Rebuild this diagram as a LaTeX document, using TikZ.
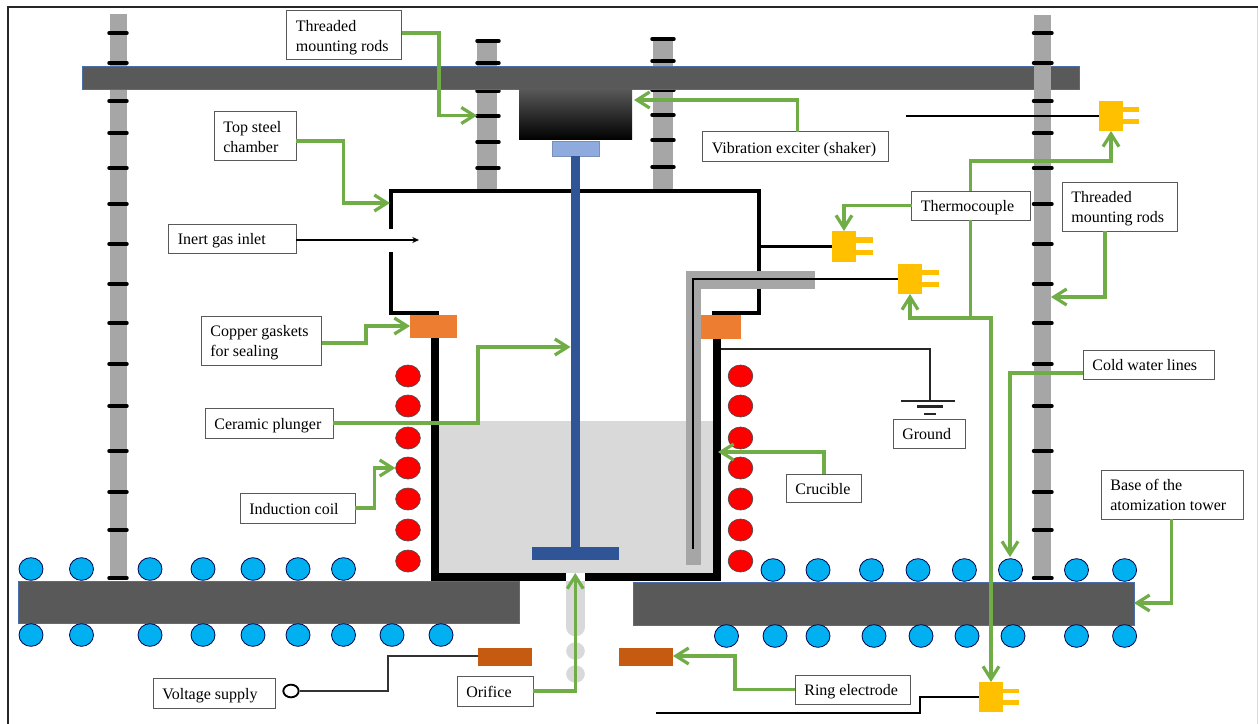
\documentclass[tikz,border=0pt]{standalone}
\usepackage{fontspec}
\setmainfont{Liberation Serif}
\usetikzlibrary{arrows.meta,shapes.geometric}
\definecolor{beamc}{HTML}{595959}
\definecolor{beamb}{HTML}{4A6FA8}
\definecolor{rodc}{HTML}{A6A6A6}
\definecolor{greenc}{HTML}{70AD47}
\definecolor{plungc}{HTML}{2F5597}
\definecolor{capc}{HTML}{8FAADC}
\definecolor{orangec}{HTML}{ED7D31}
\definecolor{elec}{HTML}{C55A11}
\definecolor{plugc}{HTML}{FFC000}
\definecolor{meltc}{HTML}{D9D9D9}
\definecolor{waterc}{HTML}{00B0F0}
\tikzset{
  beam/.style={fill=beamc,draw=beamb,line width=0.6pt},
  rod/.style={fill=rodc},
  tick/.style={line width=2.6pt,line cap=round,black},
  plugbody/.style={fill=plugc},
  gasket/.style={fill=orangec},
  electrode/.style={fill=elec},
  coil/.style={ellipse,fill=red,draw=black!70,line width=0.5pt,inner sep=0,minimum width=18.5pt,minimum height=16.5pt},
  water/.style={ellipse,fill=waterc,draw=black!70!blue,line width=0.6pt,inner sep=0,minimum width=18pt,minimum height=17pt},
  labelbox/.style={draw=black!65,fill=white,line width=0.75pt},
  gline/.style={draw=greenc,line width=2.4pt,-{Straight Barb[length=9.5pt,width=12pt,line width=2.4pt]}},
  wire/.style={black,line width=1.7pt},
  chamber/.style={black,line width=2.8pt},
  wall/.style={black,line width=6pt},
}
\newcommand\partbox[6]{\node[#2,inner sep=0,outer sep=0,minimum width={((#5)-(#3))*0.75pt},minimum height={((#6)-(#4))*0.75pt}] (#1) at ({((#3)+(#5))/2},{((#4)+(#6))/2}) {};}
\newcommand\labelat[6]{\node[labelbox,inner sep=0,outer sep=0,minimum height={((#5)-(#3))*0.75pt}] (#1) at ({((#2)+(#4))/2},{((#3)+(#5))/2})
  {\makebox[{\dimexpr#4pt*3/4-#2pt*3/4\relax}][l]{\hspace{7pt}\fontsize{12}{15}\selectfont\raisebox{-0.8pt}[\dimexpr\height+0.8pt\relax][\dimexpr\depth-0.8pt\relax]{\begin{tabular}[c]{@{}l@{}}#6\end{tabular}}}};}
\begin{document}
\begin{tikzpicture}[x=0.75pt,y=-0.75pt]
\useasboundingbox (0,0) rectangle (1258,724);
\fill[white] (0,0) rectangle (1258,724);
\coordinate (fa) at (8,724); \coordinate (fb) at (8,7); \coordinate (fc) at (1258,7);
\draw[black!85,line width=1.6pt] (fa) -- (fb) -- (fc);
\coordinate (ea) at (1257.2,8); \coordinate (eb) at (1257.2,724);
\draw[black!15,line width=0.9pt] (ea) -- (eb);
% rods behind beam
\partbox{rodA}{rod}{110}{14}{127}{580}
\foreach \y in {33,63,101,133,168,204,244,284,323,364,406,451,492,530,578}
  \draw[tick] (109,\y) -- (127,\y);
\partbox{rodB}{rod}{477}{41}{497}{191}
\foreach \y in {41,63,91,116,142,168}
  \draw[tick] (477,\y) -- (499,\y);
\partbox{rodC}{rod}{653}{39}{673}{191}
\foreach \y in {39,61,90,115,140,167}
  \draw[tick] (652,\y) -- (674,\y);
% top beam
\partbox{topbeam}{beam}{82}{66}{1079}{89}
% right rod in front of beam
\partbox{rodD}{rod}{1034}{15}{1051}{580}
\foreach \y in {33,63,101,133,168,204,244,284,323,364,406,451,492,530,578}
  \draw[tick] (1033.5,\y) -- (1052,\y);
% shaker
\node[inner sep=0,outer sep=0,minimum width=84.75pt,minimum height=38.25pt,top color=black!65,middle color=black,bottom color=black] (shaker) at (575.5,114.5) {};
\partbox{cap}{fill=capc,draw=capc!85!black,line width=0.6pt}{552}{141}{599.5}{156}
% melt
\partbox{melt}{fill=meltc}{439}{421}{713}{573}
% chamber
\draw[chamber] (391,229) -- (391,191) -- (759,191) -- (759,313) -- (712,313);
\draw[chamber] (391,252) -- (391,313) -- (439,313);
% crucible
\draw[wall] (435,325) -- (435,577) -- (566,577);
\draw[wall] (585,577) -- (717,577) -- (717,325);
% plunger
\partbox{plunger}{fill=plungc}{570.5}{156}{580}{548}
\partbox{foot}{fill=plungc}{532}{547}{619}{560}
% sheath
\partbox{sheathV}{fill=rodc}{686}{271}{701}{565}
\partbox{sheathH}{fill=rodc}{686}{271}{815}{289}
% plugs
\partbox{plugA}{plugbody}{832}{231}{856}{262}
\partbox{pinAa}{fill=plugc}{856}{237}{873}{243}
\partbox{pinAb}{fill=plugc}{856}{250}{873}{255}
\partbox{plugB}{plugbody}{898}{264}{922}{294}
\partbox{pinBa}{fill=plugc}{922}{270}{939}{275}
\partbox{pinBb}{fill=plugc}{922}{282}{939}{287}
\partbox{plugC}{plugbody}{1099}{101}{1123}{131}
\partbox{pinCa}{fill=plugc}{1123}{107}{1139}{112}
\partbox{pinCb}{fill=plugc}{1123}{119}{1139}{124}
\partbox{plugD}{plugbody}{979}{682}{1003}{712}
\partbox{pinDa}{fill=plugc}{1003}{689}{1019}{693}
\partbox{pinDb}{fill=plugc}{1003}{700}{1019}{705}
% thermocouple wires
\coordinate (wireA) at (760,246.5);
\draw[wire] (wireA) -- (plugA.west);
\coordinate (wireB) at (693,549);
\draw[wire,line width=2pt] (wireB) -- (693,279) -- (plugB.west);
\coordinate (wireC) at (906,116);
\draw[wire] (wireC) -- (plugC.west);
\coordinate (wireD) at (656,713);
\draw[wire] (wireD) -- (920,713) -- (920,697) -- (plugD.west);
% gaskets
\partbox{gasketL}{gasket}{410}{315}{457}{338}
\partbox{gasketR}{gasket}{701}{315}{740.5}{339}
% base
\partbox{baseL}{beam}{18}{581}{519.5}{623}
\partbox{baseR}{beam}{633}{582}{1134}{625}
% stream
\draw[meltc,line width=14pt,line cap=round] (575.5,590) -- (575.5,627);
\draw[meltc,line width=14pt] (575.5,581) -- (575.5,590);
\node[ellipse,fill=meltc,inner sep=0,minimum width=14pt,minimum height=13pt] (dropA) at (575.5,651) {};
\node[ellipse,fill=meltc,inner sep=0,minimum width=14pt,minimum height=13pt] (dropB) at (575.5,674) {};
% electrodes
\partbox{elL}{electrode}{478}{648}{531.5}{666}
\partbox{elR}{electrode}{619}{648}{673}{666}
% coils
\foreach \y [count=\i] in {376,406,438,468,499,530,561}{
  \node[coil] (coilL\i) at (408,\y) {};
  \node[coil] (coilR\i) at (740.5,\y) {};
}
% cooling water
\foreach \x [count=\i] in {31,81.5,150,203,253,298,343.5}
  \node[water] (wUL\i) at (\x,569) {};
\foreach \x [count=\i] in {31,81.5,150,203,253,298,343.5,392,441}
  \node[water] (wLL\i) at (\x,635) {};
\foreach \x [count=\i] in {773,818,871.5,918,964.4,1010.5,1076.5,1124.6}
  \node[water] (wUR\i) at (\x,570) {};
\foreach \x [count=\i] in {726.5,775,818,874,921,967,1013,1076.5,1124.6}
  \node[water] (wLR\i) at (\x,636) {};
% ground
\coordinate (gndS) at (721,349); \coordinate (gndT) at (930,401);
\draw[black!85,line width=1.4pt] (gndS) -| (gndT);
\draw[black!85,line width=1.7pt] (901,401) -- (955,401);
\draw[black!85,line width=1.7pt] (917,406.5) -- (943,406.5);
\draw[black!85,line width=1.7pt] (924,414) -- (936,414);
% voltage
\node[ellipse,draw=black,fill=white,line width=1.4pt,inner sep=0,minimum width=11.5pt,minimum height=9.5pt] (vterm) at (291,691) {};
\draw[black!80,line width=1.6pt] (vterm.east) -| (388,656) -- (elL.west |- 388,656);
% labels
\labelat{lThA}{286.5}{10.5}{401.5}{59.5}{Threaded\\mounting rods}
\labelat{lTop}{214}{112}{296}{161}{Top steel\\chamber}
\labelat{lGas}{168.5}{224}{296}{253}{Inert gas inlet}
\labelat{lCu}{201}{316}{321.5}{365}{Copper gaskets\\for sealing}
\labelat{lCer}{205}{408}{333}{438}{Ceramic plunger}
\labelat{lInd}{240}{493}{355}{523}{Induction coil}
\labelat{lVol}{153}{678}{275}{708}{Voltage supply}
\labelat{lOri}{457}{676}{533}{706}{Orifice}
\labelat{lRing}{795}{675}{910}{704}{Ring electrode}
\labelat{lCru}{786}{474}{861.5}{502}{Crucible}
\labelat{lVib}{702.5}{132}{888}{162}{Vibration exciter (shaker)}
\labelat{lTc}{911.5}{191}{1030}{220}{Thermocouple}
\labelat{lThB}{1062}{182}{1177}{231}{Threaded\\mounting rods}
\labelat{lGnd}{893}{419}{965}{448}{Ground}
\labelat{lCold}{1083}{350}{1214}{379}{Cold water lines}
\labelat{lBase}{1101}{470}{1243}{519}{Base of the\\atomization tower}
% connectors
\draw[gline] (lThA.east |- 401,33) -| (439,115.5) -- (rodB.west |- 439,115.5);
\draw[gline] (lTop.east |- 296,141) -| (343.5,203) -- (390,203);
\draw[-{Stealth[length=5pt,width=4.5pt]},black,line width=1.5pt] (lGas.east |- 296,240) -- (419,240);
\draw[gline] (lCu.east |- 321,343) -| (366,326) -- (gasketL.west |- 366,326);
\draw[gline] (lCer.east) -| (478,347) -- (plunger.west |- 478,347);
\draw[gline] (lInd.east) -| (374.5,468) -- (coilL4.west);
\draw[gline] (lOri.east) -| (plunger.south |- 575,573);
\draw[gline] (lRing.west) -| (735,656) -- (elR.east |- 735,656);
\draw[gline] (lCru.north -| 824,474) |- (718,452);
\draw[gline] (lVib.north -| 797.4,132) |- (634,100);
\coordinate (tcTop) at (970,161);
\coordinate (tcLow) at (970,318);
\draw[gline] (lTc.north) -- (lTc.north |- tcTop) -| (plugC.south);
\draw[gline] (lTc.west) -| (plugA.north);
\draw[gline] (lTc.south) -- (lTc.south |- tcLow) -| (plugB.south);
\draw[gline] (lTc.south |- tcLow) -| (plugD.north);
\draw[gline] (lThB.south -| 1105,231) |- (rodD.east |- 1105,297);
\draw[gline] (lCold.west |- 1083,373) -| (1010,557);
\draw[gline] (lBase.south -| 1171.5,519) |- (baseR.east |- 1171.5,603);
\end{tikzpicture}
\end{document}
